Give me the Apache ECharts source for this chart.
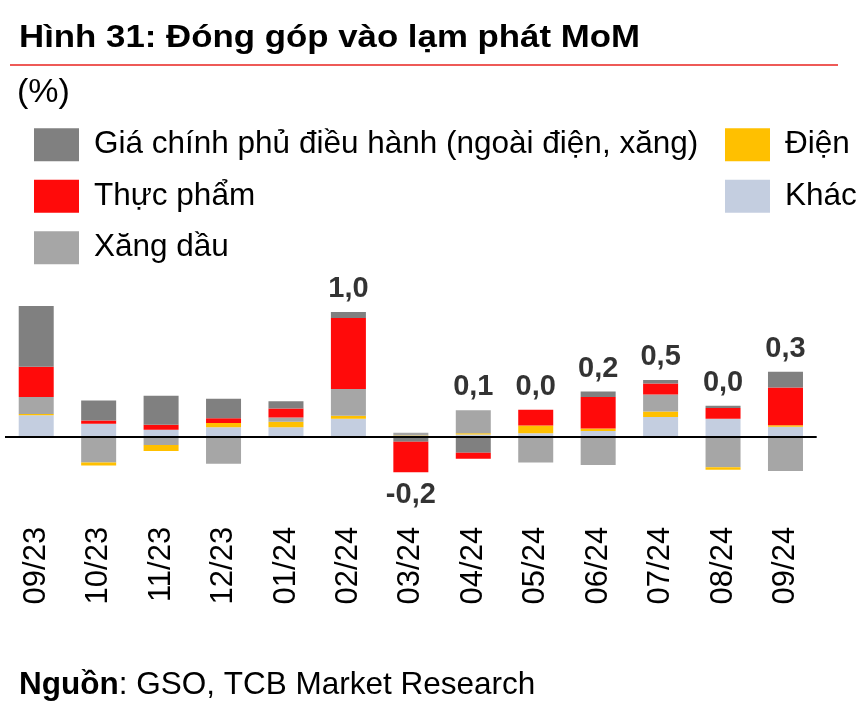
<!DOCTYPE html>
<html><head><meta charset="utf-8">
<script src="https://cdn.jsdelivr.net/npm/echarts@6/dist/echarts.min.js"></script>
<style>html,body{margin:0;padding:0;background:#fff}#c{width:868px;height:722px}</style>
</head><body><div id="c"></div>
<script>
const categories = ['09/23','10/23','11/23','12/23','01/24','02/24','03/24','04/24','05/24','06/24','07/24','08/24','09/24'];
const giaChinhPhu = [0.50, 0.165, 0.24, 0.16, 0.06, 0.05, -0.04, -0.13, 0, 0.045, 0.03, 0.017, 0.13];
const thucPham    = [0.25, 0.025, 0.04, 0.04, 0.075, 0.585, -0.25, -0.05, 0.13, 0.26, 0.09, 0.09, 0.31];
const xangDau     = [0.14, -0.21, -0.065, -0.22, 0.035, 0.22, 0.022, 0.19, -0.21, -0.23, 0.14, -0.25, -0.28];
const dien        = [0.01, -0.025, -0.05, 0.035, 0.045, 0.025, 0.012, 0.01, 0.065, 0.02, 0.045, -0.02, 0.012];
const khac        = [0.18, 0.11, 0.06, 0.08, 0.08, 0.15, 0, 0.02, 0.03, 0.05, 0.165, 0.15, 0.085];
const totalLabels = ['', '', '', '', '', '1,0', '-0,2', '0,1', '0,0', '0,2', '0,5', '0,0', '0,3'];

const FONT = '"Liberation Sans", Arial, sans-serif';
const defs = [
  {name: 'Khác', data: khac, color: '#c4cee0'},
  {name: 'Điện', data: dien, color: '#ffc000'},
  {name: 'Xăng dầu', data: xangDau, color: '#a6a6a6'},
  {name: 'Thực phẩm', data: thucPham, color: '#ff0a0a'},
  {name: 'Giá chính phủ điều hành (ngoài điện, xăng)', data: giaChinhPhu, color: '#808080'}
];

const series = [];
defs.forEach(d => series.push({
  name: d.name, type: 'bar', stack: 'all', barWidth: 35,
  itemStyle: {color: d.color}, data: d.data.map(v => v > 0 ? v : 0)
}));
defs.slice().reverse().forEach(d => series.push({
  name: d.name, type: 'bar', stack: 'all', barWidth: 35,
  itemStyle: {color: d.color}, data: d.data.map(v => v < 0 ? v : 0)
}));

const posSum = categories.map((c, i) => defs.reduce((s, d) => s + Math.max(0, d.data[i]), 0));
const negSum = categories.map((c, i) => defs.reduce((s, d) => s + Math.min(0, d.data[i]), 0));
const labelData = [];
totalLabels.forEach((t, i) => {
  if (!t) return;
  const neg = t.charAt(0) === '-';
  labelData.push({
    value: [i, neg ? negSum[i] : posSum[i]],
    label: {show: true, formatter: t, position: neg ? 'bottom' : 'top', distance: neg ? 8 : 8}
  });
});
series.push({
  type: 'scatter', symbolSize: 1, itemStyle: {color: 'transparent'}, silent: true,
  label: {show: true, color: '#000', fontSize: 29, fontWeight: 'bold', fontFamily: FONT},
  data: labelData,
  markLine: {silent: true, symbol: 'none', label: {show: false},
    lineStyle: {color: '#000', width: 2, type: 'solid'}, data: [{yAxis: 0}]}
});

const legendStyle = {
  orient: 'vertical', padding: 0, itemWidth: 45, itemHeight: 33, itemGap: 18.5,
  icon: 'rect', selectedMode: false,
  textStyle: {fontSize: 31.5, color: '#000', fontFamily: FONT, padding: [5, 0, 0, 10]}
};

const chart = echarts.init(document.getElementById('c'), null, {renderer: 'canvas'});

const ctx = document.createElement('canvas').getContext('2d');
ctx.font = 'bold 31px ' + FONT;
const titleText = 'Hình 31: Đóng góp vào lạm phát MoM';
const titleScale = 621 / ctx.measureText(titleText).width;

chart.setOption({
  animation: false,
  backgroundColor: '#fff',
  textStyle: {fontFamily: FONT},
  grid: {left: 5, right: 51.3, top: 291.4, bottom: 212.2, containLabel: false},
  xAxis: {
    type: 'category', data: categories, position: 'bottom',
    axisLine: {show: false, onZero: false}, axisTick: {show: false},
    axisLabel: {rotate: 90, fontSize: 31, color: '#000', margin: 17, fontFamily: FONT}
  },
  yAxis: {type: 'value', min: -0.6, max: 1.2, show: false, splitLine: {show: false}},
  legend: [
    Object.assign({left: 34, top: 128.3, data: ['Giá chính phủ điều hành (ngoài điện, xăng)', 'Thực phẩm', 'Xăng dầu']}, legendStyle),
    Object.assign({left: 725, top: 128.3, data: ['Điện', 'Khác']}, legendStyle)
  ],
  graphic: [
    {type: 'text', x: 19, y: 22.5, scaleX: titleScale,
      style: {text: titleText, fontSize: 31, fontWeight: 'bold', fontFamily: FONT, fill: '#000', verticalAlign: 'top'}},
    {type: 'line', shape: {x1: 10, y1: 65, x2: 838, y2: 65}, style: {stroke: '#e8231f', lineWidth: 1.5}},
    {type: 'text', x: 17, y: 75.5,
      style: {text: '(%)', fontSize: 34, fontFamily: FONT, fill: '#000', verticalAlign: 'top'}},
    {type: 'text', x: 19, y: 669,
      style: {text: '{b|Nguồn}{r|: GSO, TCB Market Research}', verticalAlign: 'top',
        rich: {b: {fontSize: 31.5, fontWeight: 'bold', fontFamily: FONT, fill: '#000'},
               r: {fontSize: 31.5, fontFamily: FONT, fill: '#000'}}}}
  ],
  series: series
});
</script></body></html>
